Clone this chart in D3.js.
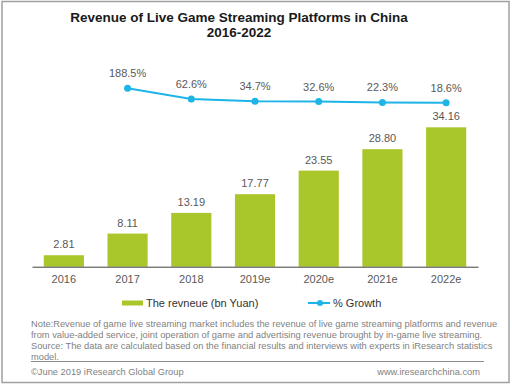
<!DOCTYPE html>
<html>
<head>
<meta charset="utf-8">
<script src="https://cdn.jsdelivr.net/npm/d3@7"></script>
<style>
  html, body { margin: 0; padding: 0; background: #fff; }
  svg { display: block; font-family: Arial, 'Liberation Sans', sans-serif; }
</style>
</head>
<body>
<div id="chart"></div>
<script>
const years = ['2016', '2017', '2018', '2019e', '2020e', '2021e', '2022e'];
const revenue = [2.81, 8.11, 13.19, 17.77, 23.55, 28.80, 34.16];
const revenueLabels = ['2.81', '8.11', '13.19', '17.77', '23.55', '28.80', '34.16'];
const growth = [null, 188.5, 62.6, 34.7, 32.6, 22.3, 18.6];
const noteLines = [
  'Note:Revenue of game live streaming market includes the revenue of live game streaming platforms and revenue',
  'from value-added service, joint operation of game and advertising revenue  brought by  in-game live streaming.',
  'Source: The data are calculated based on the financial results and interviews with experts in iResearch statistics',
  'model.'
];

const BAR = '#a9c62b';
const LINE = '#1db4e8';
const TEXT = '#595959';

const w = 512;
const h = 385;
const svg = d3.select('#chart').append('svg').attr('width', w).attr('height', h);

// outer frame
svg.append('rect')
  .attr('x', 2).attr('y', 1.5).attr('width', 507).attr('height', 381)
  .attr('fill', '#fff').attr('stroke', '#a0a0a0').attr('stroke-width', 1.5);

// title
const title = svg.append('text')
  .attr('x', 239).attr('text-anchor', 'middle')
  .attr('fill', '#1a1a1a').attr('font-size', 13.5).attr('font-weight', 700);
title.append('tspan').attr('x', 239).attr('y', 22).text('Revenue of Live Game Streaming Platforms in China');
title.append('tspan').attr('x', 239).attr('y', 37).text('2016-2022');

const x = d3.scaleBand().domain(years).range([32, 478]).paddingInner(0.37).paddingOuter(0.185);
const y = d3.scaleLinear().domain([0, 40]).range([266.7, 103.5]);
const y2 = d3.scaleLinear().domain([0, 200]).range([104.3, 87.3]);

// bars
svg.selectAll('.bar')
  .data(revenue)
  .join('rect')
  .attr('class', 'bar')
  .attr('x', (d, i) => x(years[i]))
  .attr('y', (d) => y(d))
  .attr('width', x.bandwidth())
  .attr('height', (d) => y(0) - y(d))
  .attr('fill', BAR);

svg.selectAll('.bar-label')
  .data(revenue)
  .join('text')
  .attr('class', 'bar-label')
  .attr('x', (d, i) => x(years[i]) + x.bandwidth() / 2)
  .attr('y', (d) => y(d) - 7)
  .attr('text-anchor', 'middle')
  .attr('fill', TEXT)
  .attr('font-size', 11)
  .text((d, i) => revenueLabels[i]);

// x axis
const xAxis = svg.append('g')
  .attr('transform', `translate(0,${y(0)})`)
  .call(d3.axisBottom(x).tickSize(0).tickPadding(9));
xAxis.select('.domain').attr('stroke', '#404040').attr('stroke-width', 1);
xAxis.selectAll('.tick text')
  .attr('fill', TEXT)
  .attr('font-size', 11)
  .attr('font-family', 'Arial, Liberation Sans, sans-serif');

// growth line
const pts = growth.map((g, i) => ({ g, year: years[i] })).filter((d) => d.g !== null);
const cx = (d) => x(d.year) + x.bandwidth() / 2;
svg.append('path')
  .datum(pts)
  .attr('fill', 'none')
  .attr('stroke', LINE)
  .attr('stroke-width', 2)
  .attr('d', d3.line().x(cx).y((d) => y2(d.g)));

svg.selectAll('.dot')
  .data(pts)
  .join('circle')
  .attr('class', 'dot')
  .attr('cx', cx)
  .attr('cy', (d) => y2(d.g))
  .attr('r', 3.5)
  .attr('fill', LINE);

svg.selectAll('.dot-label')
  .data(pts)
  .join('text')
  .attr('class', 'dot-label')
  .attr('x', cx)
  .attr('y', (d) => y2(d.g) - 11)
  .attr('text-anchor', 'middle')
  .attr('fill', TEXT)
  .attr('font-size', 11)
  .text((d) => d.g.toFixed(1) + '%');

// legend
const legend = svg.append('g').attr('transform', 'translate(0,303)');
legend.append('rect').attr('x', 122).attr('y', -2.5).attr('width', 21).attr('height', 5).attr('fill', BAR);
legend.append('text').attr('x', 146).attr('y', 4).attr('fill', '#333').attr('font-size', 11)
  .text('The revneue (bn Yuan)');
legend.append('line').attr('x1', 308).attr('x2', 330).attr('y1', 0).attr('y2', 0)
  .attr('stroke', LINE).attr('stroke-width', 2);
legend.append('circle').attr('cx', 320).attr('cy', 0).attr('r', 3).attr('fill', LINE);
legend.append('text').attr('x', 333).attr('y', 4).attr('fill', '#333').attr('font-size', 11)
  .text('% Growth');

// note
svg.append('g')
  .selectAll('text')
  .data(noteLines)
  .join('text')
  .attr('x', 31)
  .attr('y', (d, i) => 326.5 + i * 11)
  .attr('fill', '#7f7f7f')
  .attr('font-size', 9.3)
  .text((d) => d);

svg.append('line')
  .attr('x1', 31).attr('x2', 484).attr('y1', 361.5).attr('y2', 361.5)
  .attr('stroke', '#8c8c8c').attr('stroke-width', 1);

svg.append('text').attr('x', 31).attr('y', 374.5).attr('fill', '#7f7f7f').attr('font-size', 9.3)
  .text('\u00A9June 2019 iResearch Global Group');
svg.append('text').attr('x', 480).attr('y', 374.5).attr('text-anchor', 'end')
  .attr('fill', '#7f7f7f').attr('font-size', 9.3)
  .text('www.iresearchchina.com');
</script>
</body>
</html>
